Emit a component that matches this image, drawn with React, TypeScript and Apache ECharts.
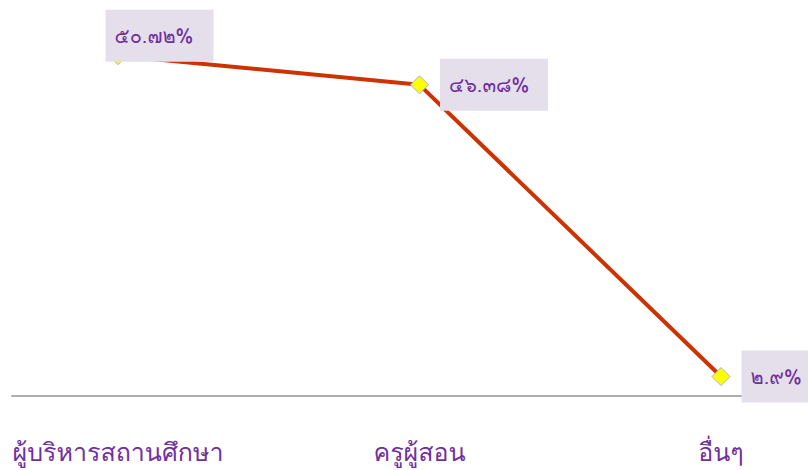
import React, { useEffect, useRef } from "react";
import * as echarts from "echarts";

const categories: string[] = ["ผู้บริหารสถานศึกษา", "ครูผู้สอน", "อื่นๆ"];
const values: number[] = [50.72, 46.38, 2.9];

const thaiDigits = ["๐", "๑", "๒", "๓", "๔", "๕", "๖", "๗", "๘", "๙"];
const toThai = (s: string) => s.replace(/[0-9]/g, (d) => thaiDigits[Number(d)]);

const FONT = "Loma, Tahoma, Garuda, 'Noto Sans Thai', 'DejaVu Sans', sans-serif";

export default function App() {
  const ref = useRef<HTMLDivElement>(null);
  useEffect(() => {
    if (!ref.current) return;
    const chart = echarts.init(ref.current, undefined, { renderer: "svg" });
    const labelBase = {
      show: true,
      position: "right" as const,
      distance: 11,
      backgroundColor: "#E5DFEC",
      color: "#7030A0",
      fontSize: 20,
      lineHeight: 22,
      width: 84,
      align: "left" as const,
      fontFamily: FONT,
      padding: [15, 15, 15, 9],
      formatter: (p: any) => toThai(String(p.value)) + "%",
    };
    chart.setOption({
      animation: false,
      backgroundColor: "#ffffff",
      grid: [
        { left: 118, right: 87, top: 27, bottom: 74 },
        { left: 12, right: 12, top: 27, bottom: 74 },
      ],
      xAxis: [
        {
          type: "category",
          gridIndex: 0,
          data: categories,
          boundaryGap: false,
          axisLine: { show: false },
          axisTick: { show: false },
          axisLabel: {
            color: "#7030A0",
            fontSize: 25,
            fontFamily: FONT,
            margin: 43,
          },
        },
        {
          type: "value",
          gridIndex: 1,
          min: 0,
          max: 1,
          axisLine: { show: true, onZero: false, lineStyle: { color: "#ADADAD", width: 2 } },
          axisTick: { show: false },
          axisLabel: { show: false },
          splitLine: { show: false },
        },
      ],
      yAxis: [
        {
          type: "value",
          gridIndex: 0,
          min: 0,
          max: 55,
          show: false,
          splitLine: { show: false },
        },
        {
          type: "value",
          gridIndex: 1,
          min: 0,
          max: 1,
          show: false,
          splitLine: { show: false },
        },
      ],
      series: [
        {
          type: "line",
          xAxisIndex: 0,
          yAxisIndex: 0,
          data: values.map((v, i) =>
            i === 0 ? { value: v, label: { offset: [-33, -20] } } : v
          ),
          lineStyle: { color: "#CC3300", width: 4 },
          itemStyle: { color: "#FFFF00", borderColor: "#9DB7C9", borderWidth: 1 },
          symbol: "diamond",
          symbolSize: 18,
          label: labelBase,
          z: 3,
        },
      ],
    });
    return () => chart.dispose();
  }, []);
  return (
    <div
      ref={ref}
      style={{ position: "fixed", left: 0, top: 0, width: 808, height: 470 }}
    />
  );
}
